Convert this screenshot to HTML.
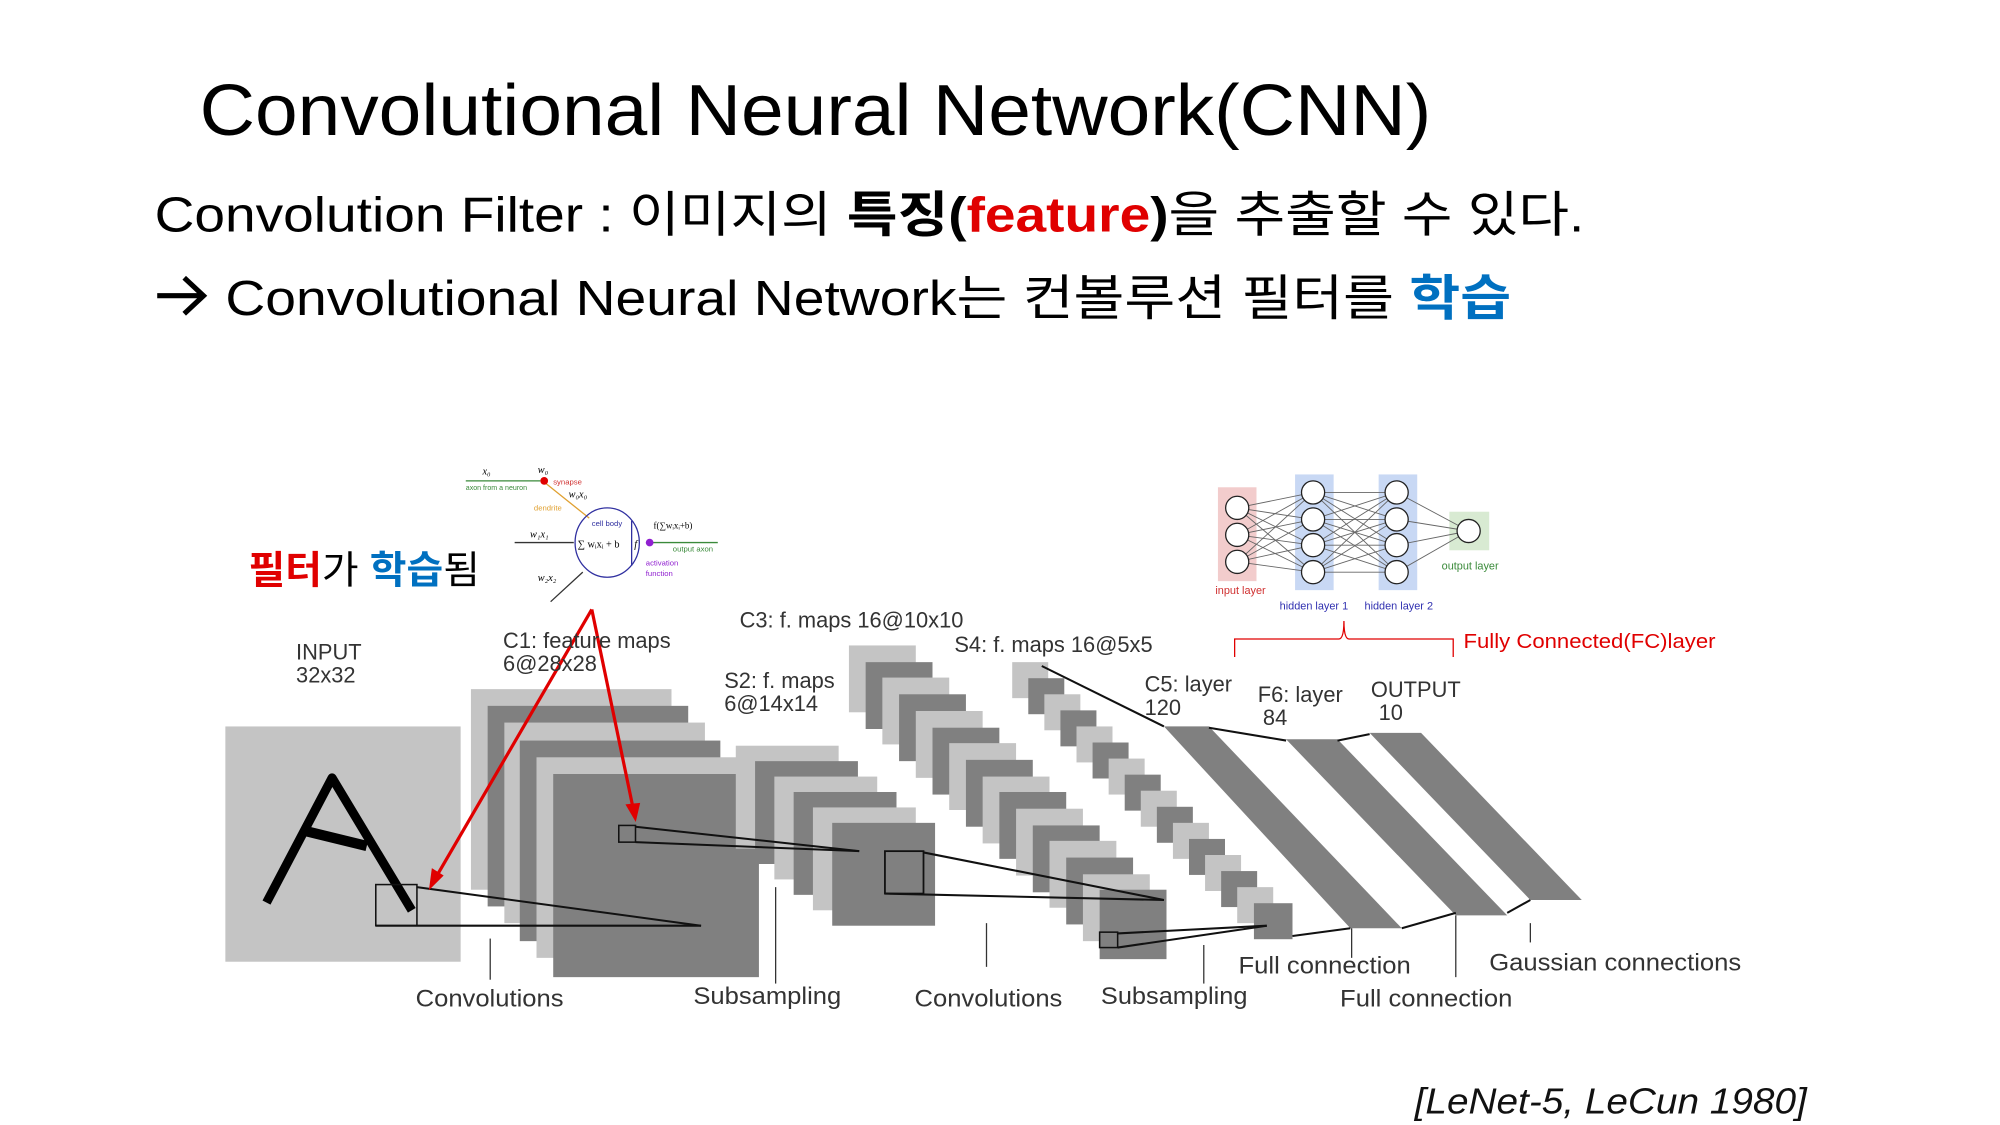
<!DOCTYPE html>
<html><head><meta charset="utf-8"><style>
html,body{margin:0;padding:0;background:#fff;}
svg{display:block;}
</style></head><body>
<svg width="2000" height="1125" viewBox="0 0 1555 875" xmlns="http://www.w3.org/2000/svg">
<rect width="1555" height="875" fill="#fff"/>
<g font-family="Liberation Sans, 'Noto Sans CJK KR', sans-serif">
<text x="155" y="105" font-size="56" textLength="958" lengthAdjust="spacingAndGlyphs">Convolutional Neural Network(CNN)</text>
<text x="120" y="180" font-size="38" textLength="1112" lengthAdjust="spacingAndGlyphs">Convolution Filter : 이미지의 <tspan font-weight="bold">특징(</tspan><tspan font-weight="bold" fill="#e00000">feature</tspan><tspan font-weight="bold">)</tspan>을 추출할 수 있다.</text>
<path d="M122 230 H156 M143 216 L158 230 L143 244" fill="none" stroke="#000" stroke-width="4"/>
<text x="175" y="245" font-size="38" textLength="1000" lengthAdjust="spacingAndGlyphs">Convolutional Neural Network는 컨볼루션 필터를 <tspan font-weight="bold" fill="#0070c0">학습</tspan></text>

<text x="193" y="454" font-size="30" textLength="180" lengthAdjust="spacingAndGlyphs"><tspan fill="#e00000" font-weight="bold">필터</tspan>가 <tspan fill="#0070c0" font-weight="bold">학습</tspan>됨</text>
</g>

<!-- neuron diagram -->
<g font-family="Liberation Serif, serif">
<line x1="362" y1="374" x2="420" y2="374" stroke="#3a8a3a" stroke-width="1"/>
<line x1="423" y1="375" x2="458" y2="403" stroke="#e0a030" stroke-width="1"/>
<circle cx="423" cy="374" r="3" fill="#e00000"/>
<ellipse cx="472" cy="422" rx="25" ry="27" fill="none" stroke="#3030a0" stroke-width="1"/>
<line x1="491" y1="405" x2="491" y2="440" stroke="#3030a0" stroke-width="1"/>
<line x1="400" y1="422" x2="446" y2="422" stroke="#333" stroke-width="1"/>
<line x1="428" y1="468" x2="453" y2="445" stroke="#333" stroke-width="1"/>
<line x1="505" y1="422" x2="558" y2="422" stroke="#3a8a3a" stroke-width="1"/>
<circle cx="505" cy="422" r="3" fill="#9020d0"/>
<text x="375" y="369" font-size="8" font-style="italic">x₀</text>
<text x="418" y="368" font-size="8" font-style="italic">w₀</text>
<text x="430" y="377" font-size="6" fill="#d03030" font-family="Liberation Sans">synapse</text>
<text x="362" y="381" font-size="5.5" fill="#3a8a3a" font-family="Liberation Sans">axon from a neuron</text>
<text x="442" y="387" font-size="8" font-style="italic">w₀x₀</text>
<text x="415" y="397" font-size="6" fill="#e0a030" font-family="Liberation Sans">dendrite</text>
<text x="460" y="409" font-size="6" fill="#3030a0" font-family="Liberation Sans">cell body</text>
<text x="412" y="418" font-size="8" font-style="italic">w₁x₁</text>
<text x="449" y="426" font-size="8">∑ wᵢxᵢ + b</text>
<text x="493" y="426" font-size="8" font-style="italic">f</text>
<text x="508" y="411" font-size="7">f(∑wᵢxᵢ+b)</text>
<text x="523" y="429" font-size="6" fill="#3a8a3a" font-family="Liberation Sans">output axon</text>
<text x="502" y="440" font-size="6" fill="#9020d0" font-family="Liberation Sans">activation</text>
<text x="502" y="448" font-size="6" fill="#9020d0" font-family="Liberation Sans">function</text>
<text x="418" y="452" font-size="8" font-style="italic">w₂x₂</text>
</g>

<!-- FC diagram -->
<rect x="947" y="379" width="30" height="73" fill="#f2cccc"/>
<rect x="1007" y="369" width="30" height="90" fill="#c8d8f4"/>
<rect x="1072" y="369" width="30" height="90" fill="#c8d8f4"/>
<rect x="1127" y="398" width="31" height="30" fill="#d8ead2"/>
<g stroke="#666" stroke-width="0.7">
<line x1="962" y1="395" x2="1021" y2="383"/><line x1="962" y1="395" x2="1021" y2="404"/><line x1="962" y1="395" x2="1021" y2="424"/><line x1="962" y1="395" x2="1021" y2="445"/>
<line x1="962" y1="416" x2="1021" y2="383"/><line x1="962" y1="416" x2="1021" y2="404"/><line x1="962" y1="416" x2="1021" y2="424"/><line x1="962" y1="416" x2="1021" y2="445"/>
<line x1="962" y1="437" x2="1021" y2="383"/><line x1="962" y1="437" x2="1021" y2="404"/><line x1="962" y1="437" x2="1021" y2="424"/><line x1="962" y1="437" x2="1021" y2="445"/>
<line x1="1021" y1="383" x2="1086" y2="383"/><line x1="1021" y1="383" x2="1086" y2="404"/><line x1="1021" y1="383" x2="1086" y2="424"/><line x1="1021" y1="383" x2="1086" y2="445"/>
<line x1="1021" y1="404" x2="1086" y2="383"/><line x1="1021" y1="404" x2="1086" y2="404"/><line x1="1021" y1="404" x2="1086" y2="424"/><line x1="1021" y1="404" x2="1086" y2="445"/>
<line x1="1021" y1="424" x2="1086" y2="383"/><line x1="1021" y1="424" x2="1086" y2="404"/><line x1="1021" y1="424" x2="1086" y2="424"/><line x1="1021" y1="424" x2="1086" y2="445"/>
<line x1="1021" y1="445" x2="1086" y2="383"/><line x1="1021" y1="445" x2="1086" y2="404"/><line x1="1021" y1="445" x2="1086" y2="424"/><line x1="1021" y1="445" x2="1086" y2="445"/>
<line x1="1086" y1="383" x2="1142" y2="413"/><line x1="1086" y1="404" x2="1142" y2="413"/><line x1="1086" y1="424" x2="1142" y2="413"/><line x1="1086" y1="445" x2="1142" y2="413"/>
</g>
<g fill="#fff" stroke="#222" stroke-width="1">
<circle cx="962" cy="395" r="9"/><circle cx="962" cy="416" r="9"/><circle cx="962" cy="437" r="9"/>
<circle cx="1021" cy="383" r="9"/><circle cx="1021" cy="404" r="9"/><circle cx="1021" cy="424" r="9"/><circle cx="1021" cy="445" r="9"/>
<circle cx="1086" cy="383" r="9"/><circle cx="1086" cy="404" r="9"/><circle cx="1086" cy="424" r="9"/><circle cx="1086" cy="445" r="9"/>
<circle cx="1142" cy="413" r="9"/>
</g>
<g font-family="Liberation Sans, sans-serif" font-size="8.5">
<text x="945" y="462" fill="#d03030">input layer</text>
<text x="995" y="474" fill="#3030b0">hidden layer 1</text>
<text x="1061" y="474" fill="#3030b0">hidden layer 2</text>
<text x="1121" y="443" fill="#3a8a3a">output layer</text>
</g>
<path d="M960 511 V497 H1041 Q1045 497 1045 483 Q1045 497 1049 497 H1130 V511" fill="none" stroke="#e00000" stroke-width="1"/>
<text x="1138" y="504" font-family="Liberation Sans, sans-serif" font-size="16" fill="#e00000" textLength="196" lengthAdjust="spacingAndGlyphs">Fully Connected(FC)layer</text>

<!-- INPUT -->
<rect x="175" y="565" width="183" height="183" fill="#c4c4c4"/>
<path d="M207 702 L258 605 L320 708" fill="none" stroke="#000" stroke-width="7" stroke-linejoin="round"/>
<line x1="236" y1="646" x2="285" y2="658" stroke="#000" stroke-width="8"/>

<!-- C1 -->
<rect x="366" y="536" width="156" height="156" fill="#c4c4c4"/>
<rect x="379" y="549" width="156" height="156" fill="#808080"/>
<rect x="392" y="562" width="156" height="156" fill="#c4c4c4"/>
<rect x="404" y="576" width="156" height="156" fill="#808080"/>
<rect x="417" y="589" width="156" height="156" fill="#c4c4c4"/>
<rect x="430" y="602" width="160" height="158" fill="#808080"/>

<!-- S2 -->
<rect x="572" y="580" width="80" height="80" fill="#c4c4c4"/>
<rect x="587" y="592" width="80" height="80" fill="#808080"/>
<rect x="602" y="604" width="80" height="80" fill="#c4c4c4"/>
<rect x="617" y="616" width="80" height="80" fill="#808080"/>
<rect x="632" y="628" width="80" height="80" fill="#c4c4c4"/>
<rect x="647" y="640" width="80" height="80" fill="#808080"/>

<!-- C3 -->
<g>
<rect x="660" y="502" width="52" height="52" fill="#c4c4c4"/>
<rect x="673" y="515" width="52" height="52" fill="#808080"/>
<rect x="686" y="527" width="52" height="52" fill="#c4c4c4"/>
<rect x="699" y="540" width="52" height="52" fill="#808080"/>
<rect x="712" y="553" width="52" height="52" fill="#c4c4c4"/>
<rect x="725" y="566" width="52" height="52" fill="#808080"/>
<rect x="738" y="578" width="52" height="52" fill="#c4c4c4"/>
<rect x="751" y="591" width="52" height="52" fill="#808080"/>
<rect x="764" y="604" width="52" height="52" fill="#c4c4c4"/>
<rect x="777" y="616" width="52" height="52" fill="#808080"/>
<rect x="790" y="629" width="52" height="52" fill="#c4c4c4"/>
<rect x="803" y="642" width="52" height="52" fill="#808080"/>
<rect x="816" y="654" width="52" height="52" fill="#c4c4c4"/>
<rect x="829" y="667" width="52" height="52" fill="#808080"/>
<rect x="842" y="680" width="52" height="52" fill="#c4c4c4"/>
<rect x="855" y="692" width="52" height="54" fill="#808080"/>
</g>

<!-- S4 -->
<g>
<rect x="787" y="515" width="28" height="28" fill="#c4c4c4"/>
<rect x="799.5" y="527.5" width="28" height="28" fill="#808080"/>
<rect x="812" y="540" width="28" height="28" fill="#c4c4c4"/>
<rect x="824.5" y="552.5" width="28" height="28" fill="#808080"/>
<rect x="837" y="565" width="28" height="28" fill="#c4c4c4"/>
<rect x="849.5" y="577.5" width="28" height="28" fill="#808080"/>
<rect x="862" y="590" width="28" height="28" fill="#c4c4c4"/>
<rect x="874.5" y="602.5" width="28" height="28" fill="#808080"/>
<rect x="887" y="615" width="28" height="28" fill="#c4c4c4"/>
<rect x="899.5" y="627.5" width="28" height="28" fill="#808080"/>
<rect x="912" y="640" width="28" height="28" fill="#c4c4c4"/>
<rect x="924.5" y="652.5" width="28" height="28" fill="#808080"/>
<rect x="937" y="665" width="28" height="28" fill="#c4c4c4"/>
<rect x="949.5" y="677.5" width="28" height="28" fill="#808080"/>
<rect x="962" y="690" width="28" height="28" fill="#c4c4c4"/>
<rect x="975" y="702.5" width="30" height="28" fill="#808080"/>
</g>

<!-- C5 / F6 / OUTPUT bands -->
<polygon points="905,565 940,565 1090,722 1050,722" fill="#808080"/>
<polygon points="1000,575 1040,575 1172,712 1132,712" fill="#808080"/>
<polygon points="1065,570 1105,570 1230,700 1190,700" fill="#808080"/>

<!-- connecting lines -->
<g stroke="#111" stroke-width="1.6" fill="none">
<rect x="292" y="688" width="32" height="32" stroke-width="1.2"/>
<line x1="324" y1="690" x2="545" y2="720"/>
<line x1="292" y1="720" x2="545" y2="720"/>
<rect x="481" y="642" width="13" height="13" stroke-width="1.2"/>
<line x1="494" y1="643" x2="668" y2="662"/>
<line x1="494" y1="655" x2="668" y2="662"/>
<rect x="688" y="662" width="30" height="33" stroke-width="1.4"/>
<line x1="718" y1="663" x2="905" y2="700"/>
<line x1="688" y1="695" x2="905" y2="700"/>
<rect x="855" y="725" width="14" height="12" stroke-width="1.2"/>
<line x1="869" y1="726" x2="985" y2="720"/>
<line x1="869" y1="737" x2="985" y2="720"/>
<line x1="810" y1="518" x2="905" y2="565"/>
<line x1="940" y1="566" x2="1000" y2="576"/>
<line x1="1040" y1="576" x2="1065" y2="571"/>
<line x1="1005" y1="728" x2="1050" y2="722"/>
<line x1="1090" y1="722" x2="1132" y2="710"/>
<line x1="1172" y1="710" x2="1190" y2="700"/>
</g>

<!-- red arrows -->
<g stroke="#e00000" stroke-width="2.5" fill="#e00000">
<line x1="460" y1="474" x2="339" y2="682"/>
<line x1="460" y1="474" x2="492" y2="628"/>
<polygon points="334,691 336,676 344,681" stroke-width="1"/>
<polygon points="494,638 487,626 497,625" stroke-width="1"/>
</g>

<!-- tick lines -->
<g stroke="#333" stroke-width="1">
<line x1="381" y1="730" x2="381" y2="762"/>
<line x1="603" y1="690" x2="603" y2="765"/>
<line x1="767" y1="718" x2="767" y2="752"/>
<line x1="936" y1="735" x2="936" y2="765"/>
<line x1="1051" y1="722" x2="1051" y2="745"/>
<line x1="1132" y1="712" x2="1132" y2="760"/>
<line x1="1190" y1="718" x2="1190" y2="733"/>
</g>

<!-- labels -->
<g font-family="Liberation Sans, sans-serif" fill="#333" font-size="17">
<text x="230" y="513">INPUT</text>
<text x="230" y="531">32x32</text>
<text x="391" y="504">C1: feature maps</text>
<text x="391" y="522">6@28x28</text>
<text x="575" y="488">C3: f. maps 16@10x10</text>
<text x="563" y="535">S2: f. maps</text>
<text x="563" y="553">6@14x14</text>
<text x="742" y="507">S4: f. maps 16@5x5</text>
<text x="890" y="538">C5: layer</text>
<text x="890" y="556">120</text>
<text x="978" y="546">F6: layer</text>
<text x="982" y="564">84</text>
<text x="1066" y="542">OUTPUT</text>
<text x="1072" y="560">10</text>
</g>
<g font-family="Liberation Sans, sans-serif" fill="#333" font-size="19">
<text x="323" y="783" textLength="115" lengthAdjust="spacingAndGlyphs">Convolutions</text>
<text x="539" y="781" textLength="115" lengthAdjust="spacingAndGlyphs">Subsampling</text>
<text x="711" y="783" textLength="115" lengthAdjust="spacingAndGlyphs">Convolutions</text>
<text x="856" y="781" textLength="114" lengthAdjust="spacingAndGlyphs">Subsampling</text>
<text x="963" y="757" textLength="134" lengthAdjust="spacingAndGlyphs">Full connection</text>
<text x="1042" y="783" textLength="134" lengthAdjust="spacingAndGlyphs">Full connection</text>
<text x="1158" y="755" textLength="196" lengthAdjust="spacingAndGlyphs">Gaussian connections</text>
</g>
<text x="1100" y="866" font-family="Liberation Sans, sans-serif" font-style="italic" font-size="28" fill="#111" textLength="305" lengthAdjust="spacingAndGlyphs">[LeNet-5, LeCun 1980]</text>
</svg>
</body></html>
